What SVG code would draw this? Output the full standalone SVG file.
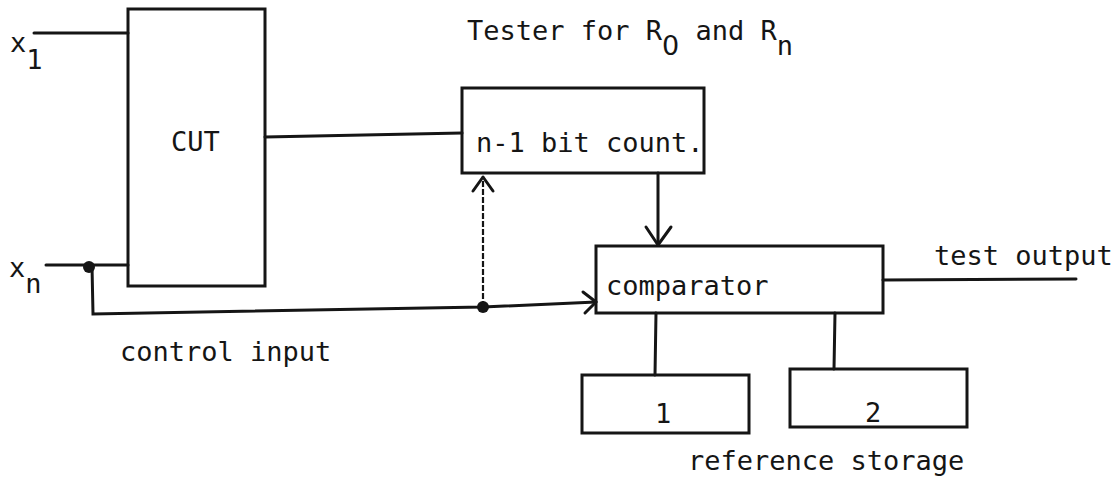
<svg xmlns="http://www.w3.org/2000/svg" width="1116" height="479" viewBox="0 0 1116 479">
  <style>
    .box { fill: none; stroke: #151515; stroke-width: 3; stroke-linejoin: miter; }
    .wire { fill: none; stroke: #151515; stroke-width: 3; stroke-linecap: round; }
    .dash { fill: none; stroke: #151515; stroke-width: 2.2; stroke-dasharray: 6 2; }
    .head { fill: none; stroke: #151515; stroke-width: 3; stroke-linecap: round; stroke-linejoin: round; }
    .lbl { font-family: "DejaVu Sans Mono", "Liberation Mono", monospace; font-size: 27px; fill: #151515; }
    .plain0 { font-family: "DejaVu Sans", "Liberation Sans", sans-serif; }
    .dot { fill: #151515; }
  </style>
  <rect width="1116" height="479" fill="#ffffff"/>

  <!-- heading -->
  <text class="lbl" x="467" y="40">Tester for R<tspan class="plain0" dy="15">0</tspan><tspan dy="-15"> and R</tspan><tspan dy="15">n</tspan></text>

  <!-- inputs -->
  <g id="input-x1">
    <text class="lbl" x="10" y="52">x<tspan dy="17">1</tspan></text>
  </g>
  <g id="input-xn">
    <text class="lbl" x="9" y="277">x<tspan dy="16">n</tspan></text>
  </g>

  <!-- circuit under test -->
  <g id="cut">
    <rect class="box" x="128" y="9" width="137" height="277"/>
    <text class="lbl" x="171" y="151">CUT</text>
  </g>

  <!-- counter -->
  <g id="counter">
    <rect class="box" x="462" y="88" width="242" height="85"/>
    <text class="lbl" x="476" y="152">n-1 bit count.</text>
  </g>

  <!-- comparator -->
  <g id="comparator">
    <rect class="box" x="596" y="246" width="287" height="67"/>
    <text class="lbl" x="606" y="295">comparator</text>
  </g>

  <!-- reference storage -->
  <g id="ref1">
    <rect class="box" x="582" y="375" width="167" height="58"/>
    <text class="lbl" x="655" y="423">1</text>
  </g>
  <g id="ref2">
    <rect class="box" x="790" y="369" width="177" height="58"/>
    <text class="lbl" x="865" y="422">2</text>
  </g>

  <!-- free labels -->
  <text class="lbl" x="120" y="361">control input</text>
  <text class="lbl" x="934" y="265">test output</text>
  <text class="lbl" x="688" y="470">reference storage</text>

  <!-- connectors -->
  <g id="connectors">
    <!-- x1 and xn inputs into CUT -->
    <line class="wire" x1="34" y1="33" x2="128" y2="33"/>
    <line class="wire" x1="46" y1="265" x2="128" y2="265"/>
    <!-- CUT output to counter -->
    <line class="wire" x1="265" y1="137" x2="462" y2="133"/>
    <!-- control input branch -->
    <circle class="dot" cx="89" cy="267" r="6"/>
    <polyline class="wire" points="92,266 93,314 483,307 596,302"/>
    <path class="head" d="M583,292 L596,302 L585,313"/>
    <circle class="dot" cx="483" cy="307" r="6"/>
    <!-- dotted enable into counter -->
    <line class="dash" x1="483" y1="307" x2="483" y2="176"/>
    <path class="head" d="M473,191 L483,177 L493,191"/>
    <!-- counter to comparator -->
    <line class="wire" x1="658" y1="173" x2="658" y2="245"/>
    <path class="head" d="M646,227 L658,245 L671,227"/>
    <!-- comparator to storage -->
    <line class="wire" x1="656" y1="313" x2="655" y2="375"/>
    <line class="wire" x1="835" y1="313" x2="834" y2="369"/>
    <!-- test output -->
    <line class="wire" x1="883" y1="280" x2="1076" y2="279"/>
  </g>
</svg>
